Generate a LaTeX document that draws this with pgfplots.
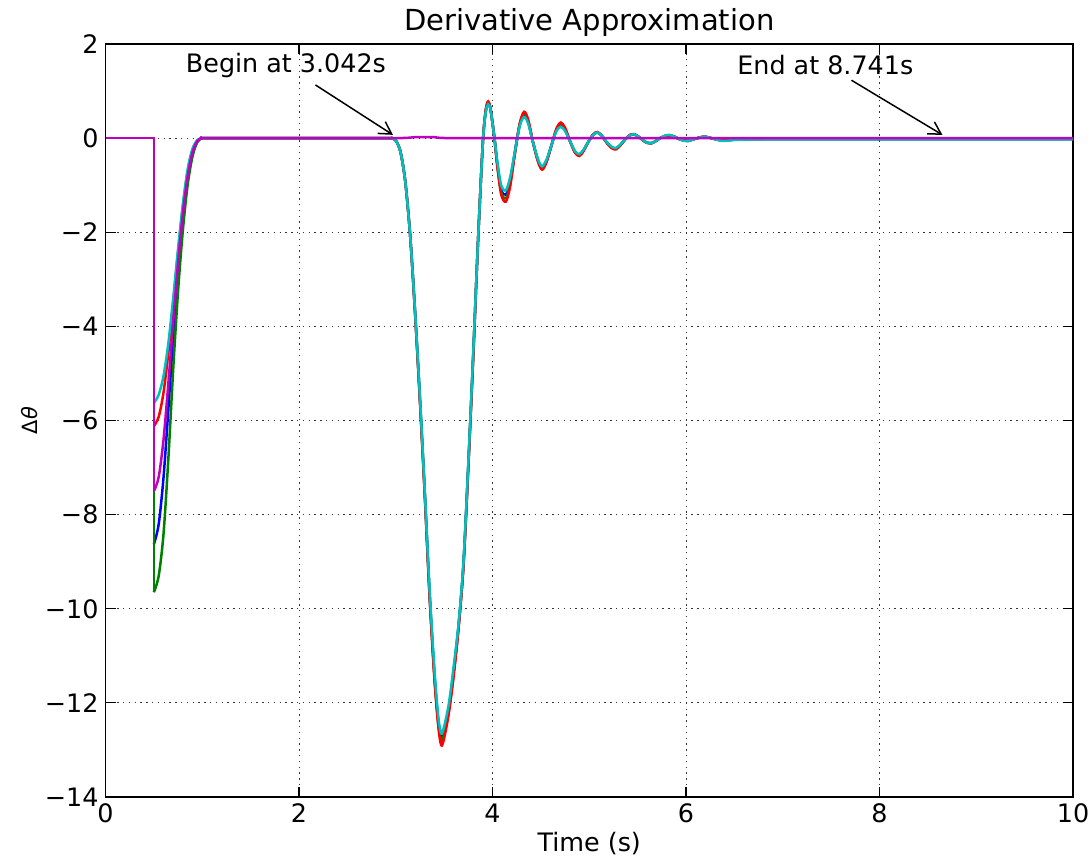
\documentclass[border=0pt]{standalone}
\usepackage{pgfplots}
\pgfplotsset{compat=1.18}
\usepackage{pgfplotstable}
\usepackage{fontspec}
\setmainfont{DejaVu Sans}
\usetikzlibrary{arrows.meta}
\definecolor{mplb}{rgb}{0,0,1}
\definecolor{mplg}{rgb}{0,0.5,0}
\definecolor{mplr}{rgb}{1,0,0}
\definecolor{mplc}{rgb}{0,0.75,0.75}
\definecolor{mplm}{rgb}{0.75,0,0.75}
\newcommand\tf{\fontsize{12.7}{15.2}\selectfont}

\pgfplotstableread{
t y
0.5 -5.63
0.55 -5.45
0.6 -5.05
0.65 -4.35
0.7 -3.4
0.75 -2.35
0.8 -1.4
0.85 -0.65
0.9 -0.22
0.95 -0.04
1.0 0
1.05 0
2.0 0
2.9 0
2.95 0
3.0 -0.05
3.05 -0.3
3.1 -0.95
3.15 -2.1
3.2 -3.7
3.25 -5.5
3.3 -7.5
3.35 -9.6
3.4 -11.3
3.44 -12.3
3.47 -12.65
3.5 -12.5
3.55 -12.0
3.6 -11.2
3.65 -10.3
3.7 -9.0
3.75 -6.9
3.8 -4.6
3.85 -2.2
3.9 -0.1
3.93 0.55
3.955 0.72
3.98 0.6
4.02 0.0
4.05 -0.5
4.09 -1.0
4.137 -1.11
4.18 -0.85
4.23 -0.3
4.28 0.25
4.327 0.45
4.37 0.3
4.42 -0.1
4.47 -0.45
4.513 -0.6
4.56 -0.45
4.61 -0.15
4.66 0.15
4.706 0.24
4.75 0.15
4.8 -0.06
4.85 -0.27
4.895 -0.34
4.94 -0.25
4.99 -0.08
5.04 0.07
5.085 0.12
5.13 0.05
5.18 -0.08
5.23 -0.18
5.274 -0.21
5.32 -0.14
5.37 -0.03
5.42 0.06
5.463 0.08
5.51 0.03
5.56 -0.05
5.6 -0.1
5.64 -0.11
5.69 -0.06
5.74 0.01
5.79 0.06
5.83 0.07
5.88 0.03
5.93 -0.02
5.98 -0.06
6.02 -0.06
6.1 -0.01
6.19 0.03
6.28 -0.01
6.38 -0.06
6.5 -0.04
6.62 -0.03
7.0 -0.02
8.0 -0.02
9.0 -0.02
10.0 -0.02
}\cyandata

\pgfplotstableread{
t y
0.5 -6.12
0.55 -5.92
0.6 -5.4
0.65 -4.55
0.7 -3.5
0.75 -2.42
0.8 -1.45
0.85 -0.7
0.9 -0.25
0.95 -0.05
1.0 0
1.05 0
2.0 0
2.9 0
2.95 0
3.0 -0.05
3.05 -0.3
3.1 -0.95
3.15 -2.1
3.2 -3.75
3.25 -5.6
3.3 -7.6
3.35 -9.75
3.4 -11.5
3.44 -12.5
3.47 -12.9
3.5 -12.75
3.55 -12.2
3.6 -11.4
3.65 -10.4
3.7 -9.1
3.75 -7.0
3.8 -4.7
3.85 -2.2
3.9 -0.1
3.93 0.6
3.955 0.78
3.98 0.62
4.02 0.0
4.05 -0.6
4.09 -1.2
4.137 -1.35
4.18 -1.05
4.23 -0.35
4.28 0.3
4.327 0.56
4.37 0.38
4.42 -0.1
4.47 -0.5
4.513 -0.67
4.56 -0.5
4.61 -0.15
4.66 0.2
4.706 0.33
4.75 0.22
4.8 -0.06
4.85 -0.3
4.895 -0.38
4.94 -0.28
4.99 -0.08
5.04 0.08
5.085 0.13
5.13 0.05
5.18 -0.1
5.23 -0.21
5.274 -0.24
5.32 -0.16
5.37 -0.03
5.42 0.07
5.463 0.085
5.51 0.03
5.56 -0.06
5.6 -0.1
5.64 -0.11
5.69 -0.06
5.74 0.01
5.79 0.05
5.83 0.06
5.88 0.03
5.93 -0.02
5.98 -0.05
6.02 -0.06
6.1 -0.01
6.19 0.03
6.28 -0.01
6.38 -0.05
6.5 -0.03
6.62 -0.02
7.0 -0.01
8.0 -0.01
9.0 -0.01
10.0 -0.01
}\reddata

\pgfplotstableread{
t y
0.5 -8.63
0.55 -8.2
0.6 -7.2
0.65 -5.75
0.7 -4.2
0.75 -2.85
0.8 -1.72
0.85 -0.88
0.9 -0.33
0.95 -0.07
1.0 0
1.05 0
2.0 0
2.9 0
2.95 0
3.0 -0.05
3.05 -0.3
3.1 -0.95
3.15 -2.1
3.2 -3.7
3.25 -5.55
3.3 -7.55
3.35 -9.7
3.4 -11.4
3.44 -12.4
3.47 -12.75
3.5 -12.6
3.55 -12.1
3.6 -11.3
3.65 -10.35
3.7 -9.05
3.75 -6.95
3.8 -4.65
3.85 -2.2
3.9 -0.1
3.93 0.57
3.955 0.74
3.98 0.6
4.02 0.0
4.05 -0.55
4.09 -1.1
4.137 -1.2
4.18 -0.95
4.23 -0.32
4.28 0.27
4.327 0.5
4.37 0.33
4.42 -0.1
4.47 -0.47
4.513 -0.63
4.56 -0.47
4.61 -0.15
4.66 0.17
4.706 0.28
4.75 0.18
4.8 -0.06
4.85 -0.28
4.895 -0.36
4.94 -0.26
4.99 -0.08
5.04 0.07
5.085 0.12
5.13 0.05
5.18 -0.09
5.23 -0.19
5.274 -0.22
5.32 -0.15
5.37 -0.03
5.42 0.06
5.463 0.08
5.51 0.03
5.56 -0.05
5.6 -0.1
5.64 -0.11
5.69 -0.06
5.74 0.01
5.79 0.05
5.83 0.06
5.88 0.03
5.93 -0.02
5.98 -0.05
6.02 -0.06
6.1 -0.01
6.19 0.03
6.28 -0.01
6.38 -0.05
6.5 -0.03
6.62 -0.02
7.0 -0.02
8.0 -0.02
9.0 -0.02
10.0 -0.02
}\bluedata

\pgfplotstableread{
t y
0.5 -9.65
0.55 -9.3
0.6 -8.4
0.65 -6.8
0.7 -4.9
0.75 -3.25
0.8 -1.95
0.85 -0.98
0.9 -0.38
0.95 -0.08
1.0 0
1.05 0
2.0 0
2.9 0
2.95 0
3.0 -0.05
3.05 -0.3
3.1 -0.95
3.15 -2.1
3.2 -3.72
3.25 -5.55
3.3 -7.55
3.35 -9.7
3.4 -11.45
3.44 -12.45
3.47 -12.8
3.5 -12.65
3.55 -12.15
3.6 -11.35
3.65 -10.35
3.7 -9.05
3.75 -6.95
3.8 -4.65
3.85 -2.2
3.9 -0.1
3.93 0.58
3.955 0.76
3.98 0.61
4.02 0.0
4.05 -0.58
4.09 -1.15
4.137 -1.28
4.18 -1.0
4.23 -0.33
4.28 0.28
4.327 0.53
4.37 0.35
4.42 -0.1
4.47 -0.48
4.513 -0.65
4.56 -0.48
4.61 -0.15
4.66 0.18
4.706 0.3
4.75 0.2
4.8 -0.06
4.85 -0.29
4.895 -0.37
4.94 -0.27
4.99 -0.08
5.04 0.07
5.085 0.12
5.13 0.05
5.18 -0.09
5.23 -0.2
5.274 -0.23
5.32 -0.15
5.37 -0.03
5.42 0.06
5.463 0.08
5.51 0.03
5.56 -0.05
5.6 -0.1
5.64 -0.11
5.69 -0.06
5.74 0.01
5.79 0.05
5.83 0.06
5.88 0.03
5.93 -0.02
5.98 -0.05
6.02 -0.06
6.1 -0.01
6.19 0.03
6.28 -0.01
6.38 -0.05
6.5 -0.03
6.62 -0.02
7.0 -0.02
8.0 -0.02
9.0 -0.02
10.0 -0.02
}\greendata

\pgfplotstableread{
t y
0.5 -7.5
0.55 -7.2
0.6 -6.4
0.65 -5.2
0.7 -3.9
0.75 -2.65
0.8 -1.6
0.85 -0.8
0.9 -0.3
0.95 -0.06
1.0 0
1.05 0
2.0 0
3.0 0
3.2 0.02
3.4 0.02
3.6 0.0
5.0 0
10.0 0
}\magdata

\begin{document}
\begin{tikzpicture}
\begin{axis}[
  at={(0,0)}, anchor=south west,
  scale only axis, width=483.75pt, height=376.5pt,
  xmin=0, xmax=10, ymin=-14, ymax=2,
  xtick={0,2,4,6,8,10}, xticklabels={0,2,4,6,8,10},
  ytick={-14,-12,-10,-8,-6,-4,-2,0,2},
  yticklabels={−14,−12,−10,−8,−6,−4,−2,0,2},
  tick label style={font=\tf},
  tick align=inside, major tick length=5pt,
  tick style={black, line width=0.6pt},
  grid=major,
  grid style={black!80, line width=0.5pt, dash pattern=on 0.7pt off 2.2pt},
  axis line style={black, line width=0.7pt},
  title={Derivative Approximation},
  every axis title shift=0pt,
  title style={font=\fontsize{14.5}{17}\selectfont, at={(axis description cs:0.5,1.018)}, anchor=base},
  xlabel={Time (s)},
  every axis x label/.style={at={(axis description cs:0.5,-0.073)}, anchor=base, font=\tf},
  ylabel={Δ\textit{θ}},
  every axis y label/.style={at={(axis description cs:-0.078,0.5)}, rotate=90, anchor=center, font=\fontsize{10.5}{12}\selectfont},
]
\addplot[mplb, line width=1.25pt] coordinates {(0,0) (0.5,0) (0.5,-8.63)};
\addplot[mplb, line width=1.25pt, smooth, tension=0.5] table[x=t,y=y] {\bluedata};
\addplot[mplg, line width=1.25pt] coordinates {(0,0) (0.5,0) (0.5,-9.65)};
\addplot[mplg, line width=1.25pt, smooth, tension=0.5] table[x=t,y=y] {\greendata};
\addplot[mplr, line width=1.25pt] coordinates {(0,0) (0.5,0) (0.5,-6.12)};
\addplot[mplr, line width=1.25pt, smooth, tension=0.5] table[x=t,y=y] {\reddata};
\addplot[mplc, line width=1.25pt] coordinates {(0,0) (0.5,0) (0.5,-5.63)};
\addplot[mplc, line width=1.25pt, smooth, tension=0.5] table[x=t,y=y] {\cyandata};
\addplot[mplm, line width=1.25pt] coordinates {(0,0) (0.5,0) (0.5,-7.5)};
\addplot[mplm, line width=1.25pt, smooth, tension=0.5] table[x=t,y=y] {\magdata};

\node[font=\tf] at (axis cs:1.865,1.55) {Begin at 3.042s};
\draw[black, line width=0.75pt, -{Straight Barb[length=6pt,width=7pt]}] (axis cs:2.17,1.13) -- (axis cs:2.97,0.07);
\node[font=\tf] at (axis cs:7.44,1.55) {End at 8.741s};
\draw[black, line width=0.75pt, -{Straight Barb[length=6pt,width=7pt]}] (axis cs:7.71,1.23) -- (axis cs:8.65,0.07);
\end{axis}
\pgfresetboundingbox
\path[use as bounding box] (-52.75pt,-31pt) rectangle (492.75pt,398.5pt);
\end{tikzpicture}
\end{document}
